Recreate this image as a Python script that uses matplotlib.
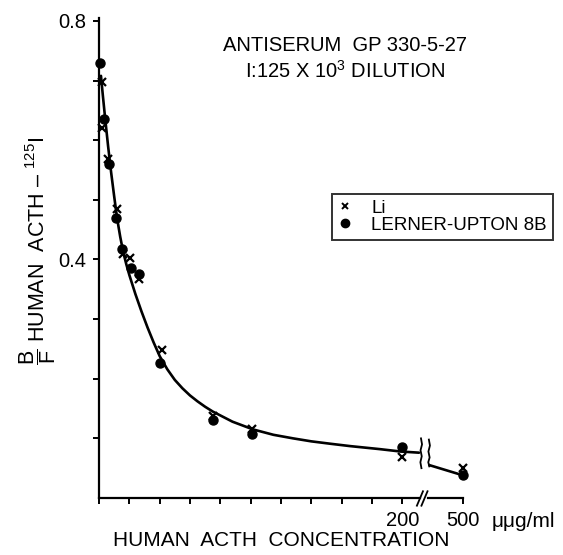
import matplotlib
matplotlib.use('Agg')
import matplotlib.pyplot as plt
from matplotlib.lines import Line2D
from matplotlib.transforms import blended_transform_factory

plt.rcParams['font.family'] = ['Liberation Sans', 'DejaVu Sans']
plt.rcParams['mathtext.fontset'] = 'custom'
plt.rcParams['mathtext.rm'] = 'Liberation Sans'
plt.rcParams['mathtext.it'] = 'Liberation Sans:italic'
plt.rcParams['mathtext.bf'] = 'Liberation Sans:bold'

# concentrations (uug/ml) and B/F
li_conc = [2, 2, 6, 12, 16, 20.5, 26.5, 41.5, 75, 101, 200, 500]
li_bf = [0.698, 0.62, 0.568, 0.485, 0.41, 0.402, 0.368, 0.248, 0.138, 0.115, 0.068, 0.05]
lu_conc = [0.6, 3.3, 6.6, 11.4, 15.4, 21, 26.5, 40, 75, 101, 200, 500]
lu_bf = [0.73, 0.635, 0.56, 0.47, 0.418, 0.385, 0.375, 0.227, 0.13, 0.108, 0.085, 0.038]

# hand drawn fit curve
fit_conc = [1.3, 2.5, 4, 6, 8, 10, 12, 14, 16, 18, 20, 24, 28, 32, 36, 40, 45, 50, 55, 60,
            65, 70, 75, 88, 101.6, 115, 128, 140, 152.5, 165.7, 185, 198.7, 211]
fit_bf = [0.708, 0.676, 0.638, 0.59, 0.546, 0.506, 0.468, 0.438, 0.412, 0.392, 0.374, 0.342,
          0.313, 0.286, 0.261, 0.238, 0.216, 0.198, 0.184, 0.172, 0.162, 0.153, 0.145, 0.128,
          0.115, 0.106, 0.1, 0.095, 0.091, 0.087, 0.082, 0.078, 0.076]
tail_conc = [218, 500]
tail_bf = [0.055, 0.038]

x_ticks = [0, 20, 40, 60, 80, 100, 120, 140, 160, 180, 200, 500]
x_labels = ['', '', '', '', '', '', '', '', '', '', '200', '500']
y_ticks = [0.1, 0.2, 0.3, 0.4, 0.5, 0.6, 0.7, 0.8]
y_labels = ['', '', '', '0.4', '', '', '', '0.8']


def xpos(c):
    # broken axis: 500 sits at position 240
    return 240 if c >= 500 else c


fig = plt.figure(figsize=(5.63, 5.55), dpi=100)
ax = fig.add_axes([99 / 563, 1 - 498 / 555, 364 / 563, 480 / 555])
ax.set_xlim(0, 240)
ax.set_ylim(0, 0.805)

ax.plot([xpos(c) for c in fit_conc], fit_bf, color='black', lw=1.9,
        solid_capstyle='round', solid_joinstyle='round')
ax.plot([xpos(c) for c in tail_conc], tail_bf, color='black', lw=1.9)
ax.plot([xpos(c) for c in li_conc], li_bf, 'x', color='black', ms=6, mew=1.6, clip_on=False)
ax.plot([xpos(c) for c in lu_conc], lu_bf, 'o', color='black', ms=6.5, clip_on=False)

# wavy break marks on the curve
ax.plot([212.3, 213.0, 212.0, 212.8, 211.9, 212.6], [0.1, 0.09, 0.08, 0.07, 0.06, 0.05],
        color='black', lw=1.3)
ax.plot([217.5, 218.2, 217.2, 218.0, 217.1, 217.8], [0.098, 0.088, 0.078, 0.068, 0.06, 0.053],
        color='black', lw=1.3)

for s in ['top', 'right']:
    ax.spines[s].set_visible(False)
ax.spines['left'].set_linewidth(1.6)
ax.spines['bottom'].set_linewidth(1.6)
ax.spines['bottom'].set_bounds(0, 211.5)
trans = blended_transform_factory(ax.transData, ax.transAxes)
ax.plot([217, 240], [0, 0], color='black', lw=1.6, transform=trans, clip_on=False)
ax.plot([209.6, 213.6], [-0.016, 0.014], color='black', lw=1.3, transform=trans, clip_on=False)
ax.plot([212.6, 216.6], [-0.016, 0.014], color='black', lw=1.3, transform=trans, clip_on=False)

ax.set_xticks([xpos(c) for c in x_ticks])
ax.set_xticklabels(x_labels)
ax.set_yticks(y_ticks)
ax.set_yticklabels(y_labels)
ax.tick_params(axis='both', direction='out', length=4, width=1.4, labelsize=14.5, pad=5)

fig.text(492 / 563, 1 - 527 / 555, 'μμg/ml', fontsize=15, va='baseline', ha='left')
fig.text(281 / 563, 1 - 540 / 555, 'HUMAN  ACTH  CONCENTRATION', fontsize=15, ha='center', va='center')
fig.text(38 / 563, 1 - 251 / 555, r'$\dfrac{\mathrm{B}}{\mathrm{F}}$ HUMAN  ACTH – $^{125}$I',
         fontsize=15.5, rotation=90, ha='center', va='center')
fig.text(345 / 563, 1 - 45 / 555, 'ANTISERUM  GP 330-5-27', fontsize=14.5, ha='center', va='center')
fig.text(345 / 563, 1 - 71 / 555, 'I:125 X 10$^3$ DILUTION', fontsize=14.5, ha='center', va='center')

handles = [Line2D([], [], ls='none', marker='x', color='black', ms=5, mew=1.4),
           Line2D([], [], ls='none', marker='o', color='black', ms=6)]
leg = ax.legend(handles, ['Li', 'LERNER-UPTON 8B'], loc='upper left',
                bbox_to_anchor=(332 / 563, 1 - 194 / 555), bbox_transform=fig.transFigure,
                fancybox=False, edgecolor='black', borderpad=0.3, labelspacing=0.0,
                handlelength=0.8, handletextpad=1.0, borderaxespad=0,
                prop={'size': 13.5})
leg.get_frame().set_linewidth(1.4)

fig.savefig('out.png', dpi=100)
